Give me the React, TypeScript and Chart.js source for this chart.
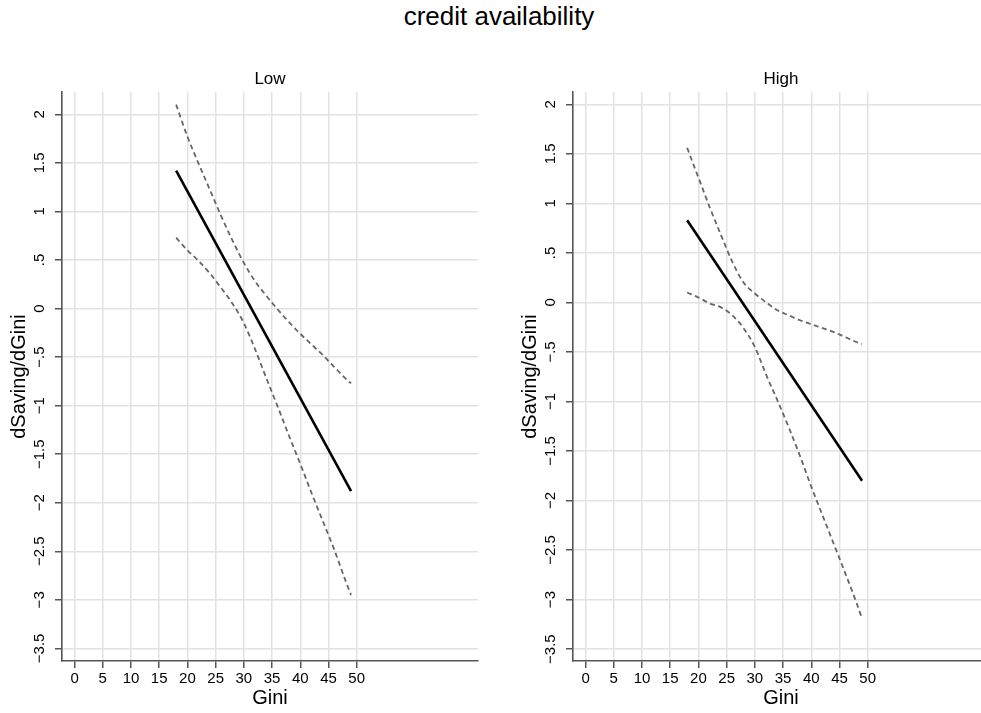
import React, { useEffect, useRef } from 'react';
import { Chart, registerables } from 'chart.js';

Chart.register(...registerables);

const FONT = "'Liberation Sans', Arial, Helvetica, sans-serif";

// ---- text ----
const mainTitle = 'credit availability';
const panelTitles = ['Low', 'High'];
const xAxisTitle = 'Gini';
const yAxisTitle = 'dSaving/dGini';

// ---- ticks ----
const xTickValues = [0, 5, 10, 15, 20, 25, 30, 35, 40, 45, 50];
const yTickValues = [-3.5, -3, -2.5, -2, -1.5, -1, -0.5, 0, 0.5, 1, 1.5, 2];
const yTickLabels = ['−3.5', '−3', '−2.5', '−2', '−1.5', '−1', '−.5', '0', '.5', '1', '1.5', '2'];

// ---- axis ranges ----
const xRange = [-2.23, 71.5];
const lowYRange = [-3.63, 2.23];
const highYRange = [-3.62, 2.124];

// ---- data: fitted marginal effect (straight line) ----
const fitGini = [18, 49];
const lowFit = [1.42, -1.88];
const highFit = [0.83, -1.8];

// ---- data: confidence bands ----
const ciGini = [18, 20, 22, 24, 26, 28, 30, 32, 34, 36, 38, 40, 42, 44, 46, 48, 49];
const lowUpper = [2.1, 1.77, 1.49, 1.22, 0.95, 0.7, 0.47, 0.28, 0.13, -0.01, -0.14, -0.26, -0.37, -0.48, -0.6, -0.72, -0.77];
const lowLower = [0.73, 0.6, 0.49, 0.36, 0.21, 0.05, -0.15, -0.42, -0.72, -1.01, -1.31, -1.6, -1.9, -2.19, -2.48, -2.8, -2.95];
const highUpper = [1.56, 1.26, 0.96, 0.68, 0.41, 0.2, 0.09, 0.0, -0.08, -0.13, -0.18, -0.22, -0.26, -0.3, -0.35, -0.4, -0.42];
const highLower = [0.1, 0.05, -0.01, -0.05, -0.13, -0.26, -0.45, -0.73, -0.99, -1.26, -1.55, -1.86, -2.15, -2.44, -2.73, -3.03, -3.19];

const AXIS = '#555555';
const GRID = '#e2e2e2';

type PanelProps = {
  title: string;
  fit: number[];
  upper: number[];
  lower: number[];
  yRange: number[];
  left: number;
};

function Panel({ title, fit, upper, lower, yRange, left }: PanelProps) {
  const ref = useRef<HTMLCanvasElement | null>(null);
  useEffect(() => {
    const canvas = ref.current;
    if (!canvas) return;
    const dashed = {
      borderColor: '#666666',
      borderWidth: 1.8,
      borderDash: [5, 3.5],
      pointRadius: 0,
      fill: false,
      cubicInterpolationMode: 'monotone' as const,
    };
    const chart = new Chart(canvas, {
      type: 'line',
      data: {
        datasets: [
          { ...dashed, data: ciGini.map((x, i) => ({ x, y: upper[i] })) },
          { ...dashed, data: ciGini.map((x, i) => ({ x, y: lower[i] })) },
          {
            data: fitGini.map((x, i) => ({ x, y: fit[i] })),
            borderColor: '#000000',
            borderWidth: 2.6,
            pointRadius: 0,
            fill: false,
          },
        ],
      },
      options: {
        responsive: false,
        animation: false,
        events: [],
        layout: { padding: { left: 0, right: 22, top: 0, bottom: 0 } },
        plugins: {
          legend: { display: false },
          tooltip: { enabled: false },
          title: {
            display: true,
            text: title,
            fullSize: false,
            color: '#000000',
            font: { family: FONT, size: 17, weight: 'normal' },
            padding: { top: 69, bottom: 2.6 },
          },
        },
        scales: {
          x: {
            type: 'linear',
            min: xRange[0],
            max: xRange[1],
            afterBuildTicks: (s: any) => {
              s.ticks = xTickValues.map((v) => ({ value: v }));
            },
            afterFit: (s: any) => {
              s.height = 52;
            },
            grid: {
              color: GRID,
              lineWidth: 1.5,
              drawTicks: true,
              tickLength: 7,
              tickColor: AXIS,
              tickWidth: 1.5,
            },
            border: { display: true, color: AXIS, width: 1.6 },
            ticks: {
              autoSkip: false,
              maxRotation: 0,
              minRotation: 0,
              padding: 2,
              color: '#000000',
              font: { family: FONT, size: 15 },
              callback: (v: any) => String(v),
            },
            title: {
              display: true,
              text: xAxisTitle,
              color: '#000000',
              font: { family: FONT, size: 20 },
              padding: { top: 0, bottom: 2.3 },
            },
          },
          y: {
            type: 'linear',
            min: yRange[0],
            max: yRange[1],
            afterBuildTicks: (s: any) => {
              s.ticks = yTickValues.map((v) => ({ value: v }));
            },
            afterFit: (s: any) => {
              s.width = 62;
            },
            grid: {
              color: GRID,
              lineWidth: 1.5,
              drawTicks: true,
              tickLength: 7,
              tickColor: AXIS,
              tickWidth: 1.5,
            },
            border: { display: true, color: AXIS, width: 1.6 },
            ticks: {
              autoSkip: false,
              minRotation: 90,
              maxRotation: 90,
              crossAlign: 'center',
              padding: 0.5,
              color: '#000000',
              font: { family: FONT, size: 15 },
              callback: (_v: any, i: number) => yTickLabels[i],
            },
            title: {
              display: true,
              text: yAxisTitle,
              color: '#000000',
              font: { family: FONT, size: 20 },
              padding: { top: 7, bottom: 0 },
            },
          },
        },
      } as any,
    });
    return () => chart.destroy();
  }, []);
  return (
    <canvas
      ref={ref}
      width={500}
      height={713}
      style={{ position: 'absolute', left, top: 0, width: 500, height: 713 }}
    />
  );
}

export default function App() {
  return (
    <div
      style={{
        position: 'absolute',
        left: 0,
        top: 0,
        width: 981,
        height: 713,
        overflow: 'hidden',
        background: '#ffffff',
      }}
    >
      <div
        style={{
          position: 'absolute',
          left: 0,
          top: 3,
          width: 998,
          textAlign: 'center',
          fontFamily: FONT,
          fontSize: 26,
          lineHeight: '26px',
          color: '#000000',
          whiteSpace: 'nowrap',
        }}
      >
        {mainTitle}
      </div>
      <Panel title={panelTitles[0]} fit={lowFit} upper={lowUpper} lower={lowLower} yRange={lowYRange} left={0} />
      <Panel title={panelTitles[1]} fit={highFit} upper={highUpper} lower={highLower} yRange={highYRange} left={511} />
    </div>
  );
}
